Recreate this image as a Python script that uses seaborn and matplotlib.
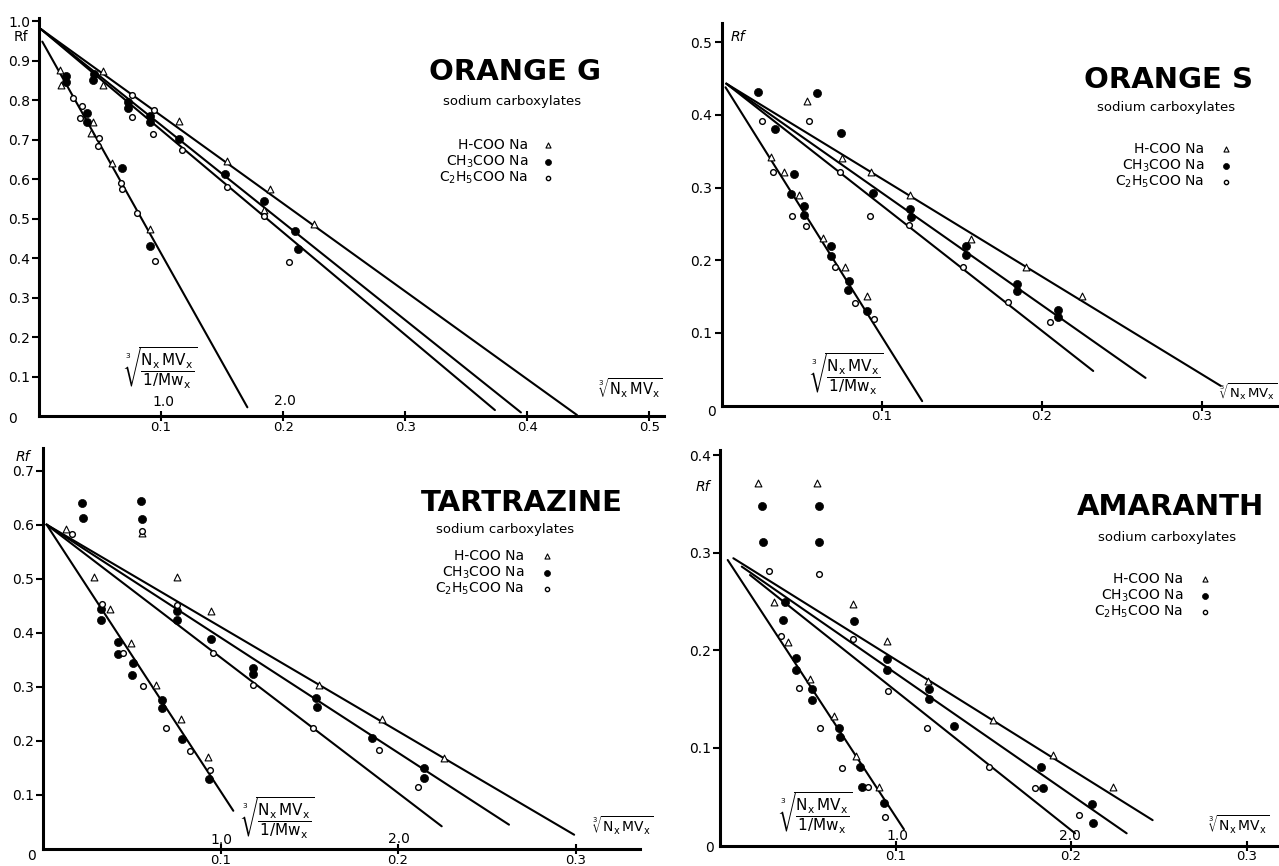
import matplotlib
matplotlib.use("Agg")
import matplotlib.pyplot as plt
import seaborn as sns

W, H = 1279, 866

# ---------------- ORANGE G ----------------
og_hcoo_x = [0.017, 0.018, 0.0525, 0.0525, 0.0445, 0.043, 0.060, 0.091, 0.115, 0.154, 0.189, 0.184, 0.225]
og_hcoo_y = [0.876, 0.838, 0.874, 0.838, 0.745, 0.717, 0.641, 0.473, 0.748, 0.646, 0.575, 0.521, 0.486]
og_ch3_x = [0.022, 0.022, 0.045, 0.0445, 0.0395, 0.039, 0.073, 0.073, 0.091, 0.091, 0.068, 0.091,
            0.115, 0.1525, 0.184, 0.210, 0.2125]
og_ch3_y = [0.861, 0.846, 0.866, 0.852, 0.766, 0.745, 0.796, 0.781, 0.759, 0.745, 0.629, 0.430,
            0.701, 0.613, 0.545, 0.468, 0.424]
og_c2h5_x = [0.028, 0.035, 0.0335, 0.049, 0.0485, 0.067, 0.068, 0.0805, 0.095, 0.076, 0.076, 0.094,
             0.0935, 0.117, 0.154, 0.1845, 0.205]
og_c2h5_y = [0.806, 0.785, 0.754, 0.705, 0.684, 0.591, 0.574, 0.513, 0.392, 0.813, 0.756, 0.776,
             0.713, 0.673, 0.580, 0.506, 0.389]
og_line_x = [[0.0027, 0.1707], [0.0014, 0.4407], [0.0014, 0.3948], [0.0014, 0.3735]]
og_line_y = [[0.948, 0.022], [0.980, 0.0025], [0.980, 0.009], [0.980, 0.015]]

# ---------------- ORANGE S ----------------
os_hcoo_x = [0.0537, 0.0308, 0.0391, 0.0483, 0.0635, 0.077, 0.0912, 0.075, 0.0937, 0.1177, 0.1562, 0.190, 0.2254]
os_hcoo_y = [0.419, 0.342, 0.322, 0.290, 0.231, 0.190, 0.151, 0.340, 0.322, 0.290, 0.229, 0.190, 0.151]
os_ch3_x = [0.0229, 0.0598, 0.0333, 0.0746, 0.0452, 0.0437, 0.0514, 0.0514, 0.0948, 0.0687, 0.0687,
            0.0798, 0.0791, 0.0912, 0.1177, 0.1187, 0.1531, 0.1531, 0.1844, 0.1844, 0.210, 0.210]
os_ch3_y = [0.432, 0.430, 0.380, 0.3755, 0.318, 0.291, 0.275, 0.262, 0.292, 0.2195, 0.206,
            0.172, 0.159, 0.130, 0.270, 0.259, 0.2195, 0.2067, 0.167, 0.157, 0.132, 0.122]
os_c2h5_x = [0.0256, 0.0546, 0.0323, 0.074, 0.0441, 0.0525, 0.0927, 0.0708, 0.0837, 0.0954, 0.117,
             0.151, 0.179, 0.2052]
os_c2h5_y = [0.392, 0.392, 0.321, 0.321, 0.261, 0.2475, 0.261, 0.190, 0.1415, 0.1186, 0.249,
             0.191, 0.143, 0.1153]
os_line_x = [[0.0025, 0.1254], [0.003, 0.312], [0.003, 0.265], [0.003, 0.2323]]
os_line_y = [[0.438, 0.006], [0.443, 0.027], [0.443, 0.038], [0.443, 0.0475]]

# ---------------- TARTRAZINE ----------------
tz_hcoo_x = [0.0128, 0.0289, 0.0377, 0.0494, 0.0637, 0.0777, 0.0928, 0.0558, 0.0753, 0.0945, 0.1557, 0.1912, 0.2259]
tz_hcoo_y = [0.592, 0.5025, 0.443, 0.381, 0.304, 0.241, 0.171, 0.584, 0.503, 0.440, 0.304, 0.240, 0.169]
tz_ch3_x = [0.0222, 0.0227, 0.0552, 0.056, 0.0327, 0.0327, 0.0421, 0.0421, 0.0509, 0.0503, 0.0672,
            0.0672, 0.0781, 0.0937, 0.0753, 0.0753, 0.0946, 0.1185, 0.1185, 0.1538, 0.1542, 0.1852,
            0.2146, 0.2146]
tz_ch3_y = [0.640, 0.612, 0.644, 0.610, 0.443, 0.424, 0.3825, 0.361, 0.344, 0.322, 0.275,
            0.260, 0.204, 0.129, 0.441, 0.424, 0.389, 0.335, 0.323, 0.280, 0.2626, 0.206,
            0.149, 0.132]
tz_c2h5_x = [0.0162, 0.0331, 0.0453, 0.0562, 0.0691, 0.0828, 0.0941, 0.0556, 0.0757, 0.0956, 0.1181,
             0.1519, 0.1893, 0.2115]
tz_c2h5_y = [0.583, 0.454, 0.362, 0.301, 0.2245, 0.181, 0.146, 0.589, 0.452, 0.362, 0.304,
             0.2232, 0.183, 0.114]
tz_line_x = [[0.002, 0.1072], [0.002, 0.2992], [0.002, 0.2625], [0.002, 0.2246]]
tz_line_y = [[0.600, 0.0707], [0.600, 0.0264], [0.600, 0.045], [0.600, 0.042]]

# ---------------- AMARANTH ----------------
am_hcoo_x = [0.0215, 0.0551, 0.031, 0.0389, 0.0513, 0.0651, 0.0773, 0.0906, 0.076, 0.095, 0.1187,
             0.1557, 0.190, 0.2241]
am_hcoo_y = [0.3715, 0.3715, 0.2494, 0.2084, 0.1705, 0.1328, 0.0921, 0.0603, 0.2477, 0.2097, 0.169,
             0.129, 0.0928, 0.0603]
am_ch3_x = [0.0238, 0.0247, 0.0566, 0.0566, 0.037, 0.0361, 0.0433, 0.0433, 0.0526, 0.0522, 0.068,
            0.0684, 0.0798, 0.0807, 0.0934, 0.0765, 0.0953, 0.0953, 0.1193, 0.1193, 0.1335, 0.1829,
            0.1839, 0.2118, 0.2127]
am_ch3_y = [0.348, 0.3116, 0.348, 0.3116, 0.2494, 0.2313, 0.192, 0.180, 0.160, 0.149, 0.1208,
            0.111, 0.080, 0.0603, 0.0433, 0.2303, 0.191, 0.180, 0.1605, 0.150, 0.1229, 0.0808,
            0.0593, 0.0423, 0.0228]
am_c2h5_x = [0.0281, 0.0566, 0.0348, 0.0452, 0.057, 0.0697, 0.0842, 0.094, 0.076, 0.0959, 0.1181,
             0.1535, 0.1795, 0.2047]
am_c2h5_y = [0.2815, 0.2785, 0.2149, 0.1619, 0.1202, 0.0798, 0.0603, 0.0295, 0.2118, 0.1585, 0.1208,
             0.0808, 0.0593, 0.0313]
am_line_x = [[0.0044, 0.1048], [0.0076, 0.2465], [0.0124, 0.2317], [0.0171, 0.2023]]
am_line_y = [[0.2928, 0.0166], [0.2946, 0.026], [0.286, 0.0125], [0.2774, 0.0125]]

salt_labels = ["H-COO Na", r"CH$_3$COO Na", r"C$_2$H$_5$COO Na"]

sns.set_theme(style="ticks", rc={
    "axes.edgecolor": "black", "axes.linewidth": 2.2,
    "xtick.color": "black", "ytick.color": "black",
    "text.color": "black", "axes.labelcolor": "black",
    "axes.facecolor": "white", "figure.facecolor": "white",
})
plt.rcParams["font.family"] = ["DejaVu Sans"]
plt.rcParams["mathtext.fontset"] = "dejavusans"

marker_styles = [
    dict(marker="^", s=24, facecolor="white", edgecolor="black", linewidth=0.8),
    dict(marker="o", s=34, facecolor="black", edgecolor="black", linewidth=0.5),
    dict(marker="o", s=17, facecolor="white", edgecolor="black", linewidth=1.0),
]

fig = plt.figure(figsize=(W / 100, H / 100), dpi=100)


def add_panel(left, right, bottom, top):
    return fig.add_axes([left / W, 1 - bottom / H, (right - left) / W, (bottom - top) / H])


def ftext(x, y, s, **kw):
    kw.setdefault("ha", "center")
    kw.setdefault("va", "center")
    fig.text(x / W, 1 - y / H, s, **kw)


def draw_panel(ax, series, line_x, line_y, xlim, ylim, xticks, yticks):
    for (xs, ys), st in zip(series, marker_styles):
        sns.scatterplot(x=xs, y=ys, ax=ax, zorder=3, legend=False, clip_on=False, **st)
    for lx, ly in zip(line_x, line_y):
        sns.lineplot(x=lx, y=ly, ax=ax, color="black", linewidth=1.5,
                     sort=False, estimator=None, legend=False)
    ax.set_xlim(*xlim)
    ax.set_ylim(*ylim)
    ax.set_xticks(xticks)
    ax.set_xticklabels([f"{v:.1f}" for v in xticks])
    ax.set_yticks(yticks)
    ax.set_yticklabels([f"{v:.1f}" for v in yticks])
    ax.set_xlabel("")
    ax.set_ylabel("")
    sns.despine(ax=ax)
    for side in ("left", "bottom"):
        ax.spines[side].set_linewidth(2.2)
    ax.tick_params(axis="x", direction="inout", length=7, width=1.5, pad=0, labelsize=9.5)
    ax.tick_params(axis="y", direction="out", length=5, width=1.5, pad=1.5, labelsize=10)


def draw_key(ov, x_text, x_mark, ys):
    for lab, y, st in zip(salt_labels, ys, marker_styles):
        ftext(x_text, y, lab, ha="right", fontsize=10)
        small = dict(st)
        small["s"] = st["s"] * 0.55
        ov.scatter([x_mark], [y], **small)


frac_label = r"$\sqrt[3]{\dfrac{\mathrm{N_x\,MV_x}}{\mathrm{1/Mw_x}}}$"
root_label = r"$\sqrt[3]{\mathrm{N_x\,MV_x}}$"

# panel axes (pixel extents)
ax1 = add_panel(39, 664, 416, 18.3)
ax2 = add_panel(721.5, 1279, 405.5, 22.6)
ax3 = add_panel(43, 640, 849, 447.8)
ax4 = add_panel(720, 1279, 845.5, 450)

draw_panel(ax1, [(og_hcoo_x, og_hcoo_y), (og_ch3_x, og_ch3_y), (og_c2h5_x, og_c2h5_y)],
           og_line_x, og_line_y, (0, 0.512), (0, 1.007),
           [0.1, 0.2, 0.3, 0.4, 0.5], [0.1, 0.2, 0.3, 0.4, 0.5, 0.6, 0.7, 0.8, 0.9, 1.0])
draw_panel(ax2, [(os_hcoo_x, os_hcoo_y), (os_ch3_x, os_ch3_y), (os_c2h5_x, os_c2h5_y)],
           os_line_x, os_line_y, (0, 0.3484), (0, 0.527),
           [0.1, 0.2, 0.3], [0.1, 0.2, 0.3, 0.4, 0.5])
draw_panel(ax3, [(tz_hcoo_x, tz_hcoo_y), (tz_ch3_x, tz_ch3_y), (tz_c2h5_x, tz_c2h5_y)],
           tz_line_x, tz_line_y, (0, 0.3363), (0, 0.742),
           [0.1, 0.2, 0.3], [0.1, 0.2, 0.3, 0.4, 0.5, 0.6, 0.7])
draw_panel(ax4, [(am_hcoo_x, am_hcoo_y), (am_ch3_x, am_ch3_y), (am_c2h5_x, am_c2h5_y)],
           am_line_x, am_line_y, (0, 0.3185), (0, 0.4056),
           [0.1, 0.2, 0.3], [0.1, 0.2, 0.3, 0.4])

# overlay in pixel coordinates for keys and annotations
ov = fig.add_axes([0, 0, 1, 1], zorder=5)
ov.set_xlim(0, W)
ov.set_ylim(H, 0)
ov.axis("off")
ov.patch.set_alpha(0)

title_kw = dict(fontsize=21, fontweight="bold")
sub_kw = dict(fontsize=9.5)

# ORANGE G
ftext(515, 72, "ORANGE G", **title_kw)
ftext(512, 102, "sodium carboxylates", **sub_kw)
draw_key(ov, 528, 548, [145, 161.5, 178])
ftext(160, 368, frac_label, fontsize=11)
ftext(163, 402, "1.0", fontsize=10)
ftext(285, 401, "2.0", fontsize=10)
ftext(630, 388, root_label, fontsize=10.5)
ftext(21, 37, "Rf", fontsize=10)
ftext(12, 419, "0", fontsize=10)

# ORANGE S
ftext(1169, 80, "ORANGE S", **title_kw)
ftext(1166, 108, "sodium carboxylates", **sub_kw)
draw_key(ov, 1204, 1226, [149, 165.5, 182])
ftext(846, 374, frac_label, fontsize=11)
ftext(1277, 392, root_label, fontsize=9.5, ha="right")
ftext(738, 37, "Rf", fontsize=10, style="italic")
ftext(711, 412, "0", fontsize=10)

# TARTRAZINE
ftext(522, 503, "TARTRAZINE", **title_kw)
ftext(505, 529, "sodium carboxylates", **sub_kw)
draw_key(ov, 524.5, 547, [556, 572.7, 589.3])
ftext(277, 818, frac_label, fontsize=11)
ftext(221, 840, "1.0", fontsize=10)
ftext(399, 839, "2.0", fontsize=10)
ftext(623, 826, root_label, fontsize=10)
ftext(23, 457, "Rf", fontsize=10, style="italic")
ftext(31.5, 856, "0", fontsize=10)

# AMARANTH
ftext(1170, 507, "AMARANTH", **title_kw)
ftext(1167, 537, "sodium carboxylates", **sub_kw)
draw_key(ov, 1183, 1205, [579.3, 595.7, 612.3])
ftext(815, 813, frac_label, fontsize=11)
ftext(897, 836, "1.0", fontsize=10)
ftext(1070, 836, "2.0", fontsize=10)
ftext(1239, 825, root_label, fontsize=10)
ftext(703, 487, "Rf", fontsize=10, style="italic")
ftext(710, 848, "0", fontsize=10)

fig.savefig("out.png", dpi=100)
